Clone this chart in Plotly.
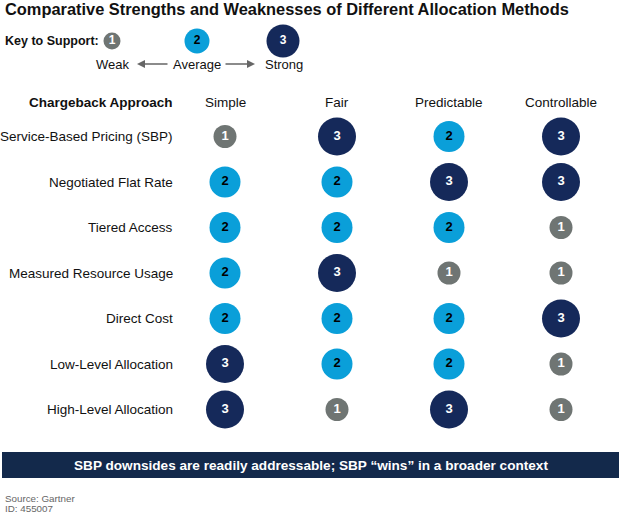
import plotly.graph_objects as go

title = "Comparative Strengths and Weaknesses of Different Allocation Methods"
criteria = ["Simple", "Fair", "Predictable", "Controllable"]
approaches = ["Service-Based Pricing (SBP)", "Negotiated Flat Rate", "Tiered Access",
              "Measured Resource Usage", "Direct Cost", "Low-Level Allocation",
              "High-Level Allocation"]
simple = [1, 2, 2, 2, 2, 3, 3]
fair = [3, 2, 2, 3, 2, 2, 1]
predictable = [2, 3, 2, 1, 2, 2, 3]
controllable = [3, 3, 1, 1, 3, 1, 1]
key_levels = [1, 2, 3]
key_labels = ["Weak", "Average", "Strong"]
banner_text = "SBP downsides are readily addressable; SBP \u201cwins\u201d in a broader context"
source_lines = ["Source: Gartner", "ID: 455007"]

W, H = 621, 513
FONT = "Liberation Sans, Arial, sans-serif"
fill = {1: "#6f7573", 2: "#0a9fd9", 3: "#15295a"}
txtc = {1: "white", 2: "black", 3: "white"}
size_tbl = {1: 23, 2: 31, 3: 38}
size_key = {1: 17, 2: 25, 3: 33}
TS = 13.5  # table text size

fig = go.Figure()

# matrix bubbles (categorical axes x2/y2)
cols = [simple, fair, predictable, controllable]
for crit, vals in zip(criteria, cols):
    fig.add_trace(go.Scatter(
        x=[crit] * len(approaches), y=approaches, xaxis="x2", yaxis="y2",
        mode="markers+text", text=[str(v) for v in vals],
        textposition="middle center",
        textfont=dict(family=FONT, size=13, color=[txtc[v] for v in vals], weight="bold"),
        marker=dict(size=[size_tbl[v] for v in vals], color=[fill[v] for v in vals],
                    opacity=1, line=dict(width=0)),
        hoverinfo="skip", showlegend=False, cliponaxis=False))

# key bubbles (pixel axes)
key_x = [112, 197, 283]
fig.add_trace(go.Scatter(
    x=key_x, y=[41] * 3, mode="markers+text", text=[str(v) for v in key_levels],
    textposition="middle center",
    textfont=dict(family=FONT, size=12, color=[txtc[v] for v in key_levels], weight="bold"),
    marker=dict(size=[size_key[v] for v in key_levels], color=[fill[v] for v in key_levels],
                opacity=1, line=dict(width=0)),
    hoverinfo="skip", showlegend=False, cliponaxis=False))

ann = []
ann.append(dict(x=3, y=9, text=f"<b>{title}</b>", xanchor="left", yanchor="middle",
                showarrow=False, font=dict(family=FONT, size=16.4, color="#111")))
ann.append(dict(x=3, y=41, text="<b>Key to Support:</b>", xanchor="left", yanchor="middle",
                showarrow=False, font=dict(family=FONT, size=12.5, color="#111")))
label_x = [112, 197, 284]
for lx, lab in zip(label_x, key_labels):
    ann.append(dict(x=lx, y=64, text=lab, xanchor="center", yanchor="middle",
                    showarrow=False, font=dict(family=FONT, size=13, color="#111")))
# arrows
ann.append(dict(x=137, y=64, ax=169, ay=64, axref="x", ayref="y", text="", showarrow=True,
                arrowhead=2, arrowsize=1, arrowwidth=1.6, arrowcolor="#666"))
ann.append(dict(x=255, y=64, ax=224, ay=64, axref="x", ayref="y", text="", showarrow=True,
                arrowhead=2, arrowsize=1, arrowwidth=1.6, arrowcolor="#666"))
# header
ann.append(dict(x=175, y=102, text="<b>Chargeback Approach</b>", xanchor="right", yanchor="middle",
                showarrow=False, font=dict(family=FONT, size=TS, color="#111")))
for c in criteria:
    ann.append(dict(x=c, y=102, xref="x2", yref="y", text=c, xanchor="center", yanchor="middle",
                    showarrow=False, font=dict(family=FONT, size=TS, color="#111")))
# row labels
for a in approaches:
    ann.append(dict(x=175, y=a, xref="x", yref="y2", text=a, xanchor="right", yanchor="middle",
                    showarrow=False, font=dict(family=FONT, size=TS, color="#111")))
# banner text
ann.append(dict(x=310.5, y=465, text=f"<b>{banner_text}</b>", xanchor="center", yanchor="middle",
                showarrow=False, font=dict(family=FONT, size=13.6, color="white")))
for i, s in enumerate(source_lines):
    ann.append(dict(x=3, y=498 + 10 * i, text=s, xanchor="left", yanchor="middle",
                    showarrow=False, font=dict(family=FONT, size=9.8, color="#666")))

for a in ann:
    a.setdefault("xref", "x")
    a.setdefault("yref", "y")

shapes = [dict(type="rect", xref="x", yref="y", x0=2, x1=619, y0=452, y1=478,
               fillcolor="#13294b", line=dict(width=0), layer="below")]

top, bottom = 113.75, 432.25
fig.update_layout(
    width=W, height=H, margin=dict(l=0, r=0, t=0, b=0),
    paper_bgcolor="white", plot_bgcolor="rgba(0,0,0,0)",
    xaxis=dict(range=[0, W], visible=False, domain=[0, 1], fixedrange=True, anchor="y"),
    yaxis=dict(range=[H, 0], visible=False, domain=[0, 1], fixedrange=True, anchor="x"),
    xaxis2=dict(type="category", categoryorder="array", categoryarray=criteria,
                range=[-0.5, 3.5], domain=[169 / W, 617 / W], visible=False,
                anchor="y2", fixedrange=True),
    yaxis2=dict(type="category", categoryorder="array", categoryarray=approaches,
                range=[6.5, -0.5], domain=[1 - bottom / H, 1 - top / H], visible=False,
                anchor="x2", fixedrange=True),
    annotations=ann, shapes=shapes, showlegend=False,
)
fig.write_html("out.html", config={"displayModeBar": False},
               post_script="document.body.style.margin='0';")
